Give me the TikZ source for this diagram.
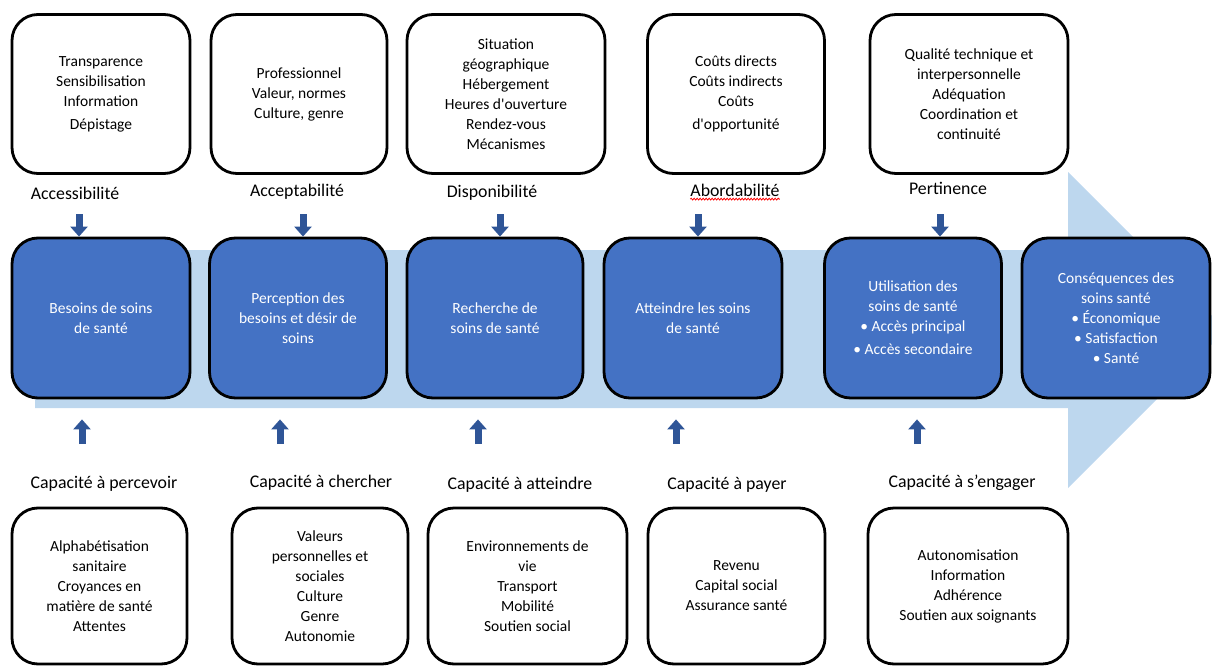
\documentclass[tikz,border=0pt]{standalone}
\usepackage{fontspec}
\setmainfont{Carlito}
\usetikzlibrary{arrows.meta,decorations.pathmorphing}
\definecolor{bandblue}{HTML}{BDD7EE}
\definecolor{stageblue}{HTML}{4472C4}
\definecolor{arrowblue}{HTML}{2F5597}

\begin{document}
\begin{tikzpicture}[x=1pt,y=-1pt,
 box/.style={draw=black,line width=2.8pt,rounded corners=26pt,fill=white,
   align=center,inner sep=0pt,minimum height=159pt,
   font={\fontsize{15.5}{20}\selectfont}},
 stage/.style={box,fill=stageblue,text=white,minimum height=160pt},
 lab/.style={inner sep=0pt,font={\fontsize{17.8}{20}\selectfont}},
 arr/.style={-{Triangle[length=10pt,width=17pt]},line width=7pt,color=arrowblue}]
 \useasboundingbox (0,0) rectangle (1212,666);
 \clip (0,0) rectangle (1212,666);
 % large arrow behind the stages
 \fill[bandblue] (35,250) -- (1068,250) -- (1068,172) -- (1226,330)
   -- (1068,488) -- (1068,408) -- (35,408) -- cycle;
 % service side
 \node[box,minimum width=178pt] (f1) at (101,94)
   {Transparence\\Sensibilisation\\Information\\[3pt]Dépistage};
 \node[box,minimum width=176pt] (f2) at (299,94)
   {Professionnel\\Valeur, normes\\Culture, genre};
 \node[box,minimum width=198pt] (f3) at (506,94)
   {Situation\\géographique\\Hébergement\\Heures d\textquotesingle ouverture\\Rendez-vous\\Mécanismes};
 \node[box,minimum width=177pt] (f4) at (736,94)
   {Coûts directs\\Coûts indirects\\Coûts\\[3pt]d\textquotesingle opportunité};
 \node[box,minimum width=198pt] (f5) at (969,94)
   {Qualité technique et\\interpersonnelle\\Adéquation\\Coordination et\\continuité};
 \node[lab] (l1) at (75,193) {Accessibilité};
 \node[lab] (l2) at (297,192) {Acceptabilité};
 \node[lab] (l3) at (492,193) {Disponibilité};
 \node[lab] (l4) at (735,190) {Abordabilité};
 \node[lab] (l5) at (948,188) {Pertinence};
 \draw[red,line width=0.8pt,decorate,decoration={snake,amplitude=0.9pt,segment length=3pt}]
   ([yshift=-3pt]l4.base west) -- ([yshift=-3pt]l4.base east);
 % stages
 \node[stage,minimum width=178pt] (e1) at (101,318) {Besoins de soins\\de santé};
 \node[stage,minimum width=177pt] (e2) at (298,318) {Perception des\\besoins et désir de\\soins};
 \node[stage,minimum width=176pt] (e3) at (495,318) {Recherche de\\soins de santé};
 \node[stage,minimum width=178pt] (e4) at (693,318) {Atteindre les soins\\de santé};
 \node[stage,minimum width=177pt] (e5) at (913,318)
   {Utilisation des\\soins de santé\\\textbullet{} Accès principal\\[3pt]\textbullet{} Accès secondaire};
 \node[stage,minimum width=188pt] (e6) at (1116,318)
   {Conséquences des\\soins santé\\\textbullet{} Économique\\\textbullet{} Satisfaction\\\textbullet{} Santé};
 % population side
 \node[lab] (c1) at (104,484) {Capacité à percevoir};
 \node[lab] (c2) at (321,483) {Capacité à chercher};
 \node[lab] (c3) at (520,485) {Capacité à atteindre};
 \node[lab] (c4) at (727,485) {Capacité à payer};
 \node[lab] (c5) at (962,483) {Capacité à s’engager};
 \node[box,minimum width=175pt,minimum height=156pt] (r1) at (99.5,586)
   {Alphabétisation\\sanitaire\\Croyances en\\matière de santé\\Attentes};
 \node[box,minimum width=176pt,minimum height=156pt] (r2) at (320,586)
   {Valeurs\\personnelles et\\sociales\\Culture\\Genre\\Autonomie};
 \node[box,minimum width=199pt,minimum height=156pt] (r3) at (527.5,586)
   {Environnements de\\vie\\Transport\\Mobilité\\Soutien social};
 \node[box,minimum width=177pt,minimum height=156pt] (r4) at (736.5,586)
   {Revenu\\Capital social\\Assurance santé};
 \node[box,minimum width=200pt,minimum height=156pt] (r5) at (968,586)
   {Autonomisation\\Information\\Adhérence\\Soutien aux soignants};
 % block arrows
 \foreach \x/\n in {79/1,303/2,500/3,698/4,940/5}
   \coordinate (d\n) at (\x,214);
 \foreach \x/\n in {82/1,280/2,478/3,676/4,917/5}
   \coordinate (u\n) at (\x,444);
 \foreach \n in {1,...,5}{
   \draw[arr] (d\n) -- (d\n |- e\n.north);
   \draw[arr,shorten >=20pt] (u\n) -- (u\n |- e\n.south);
 }
\end{tikzpicture}
\end{document}
